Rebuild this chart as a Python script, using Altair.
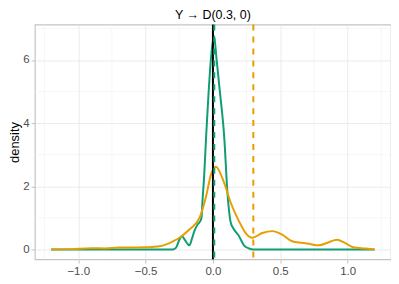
import altair as alt
import pandas as pd

# green curve (density of first series)
green_x = [-1.2, -0.6, -0.3, -0.275, -0.25, -0.23, -0.205, -0.175, -0.155, -0.138, -0.114, -0.089,
           -0.084, -0.077, -0.064, -0.051, -0.032, -0.015, 0.0077, 0.027, 0.052, 0.084, 0.108,
           0.133, 0.157, 0.194, 0.23, 0.268, 0.3, 0.6, 1.2]
green_y = [0.0, 0.0, 0.0, 0.05, 0.3, 0.42, 0.28, 0.13, 0.35, 0.58, 0.79, 0.94,
           1.05, 1.57, 2.41, 3.55, 4.98, 6.03, 6.77, 6.03, 4.98, 3.55, 1.78,
           0.84, 0.63, 0.42, 0.13, 0.03, 0.0, 0.0, 0.0]

# orange curve (density of second series)
orange_x = [-1.2, -1.05, -0.9, -0.8, -0.7, -0.5, -0.45, -0.396, -0.347, -0.3, -0.249, -0.175, -0.1,
            -0.051, -0.015, 0.022, 0.084, 0.133, 0.194, 0.243, 0.292, 0.366, 0.44, 0.514,
            0.588, 0.662, 0.71, 0.785, 0.86, 0.92, 0.98, 1.04, 1.13, 1.2]
orange_y = [0.0, 0.01, 0.04, 0.03, 0.06, 0.07, 0.08, 0.1, 0.16, 0.25, 0.37, 0.63, 1.0,
            1.68, 2.36, 2.62, 2.1, 1.47, 0.89, 0.52, 0.37, 0.52, 0.58, 0.47,
            0.26, 0.21, 0.18, 0.13, 0.23, 0.31, 0.21, 0.07, 0.03, 0.0]

vlines_x = [0.0, 0.01, 0.3]
x_ticks = [-1.0, -0.5, 0.0, 0.5, 1.0]
y_ticks = [0, 2, 4, 6]
x_minor = [-1.25, -0.75, -0.25, 0.25, 0.75, 1.25]
y_minor = [1, 3, 5, 7]

GREEN = "#0F9E74"
ORANGE = "#E69F00"

xs = alt.Scale(domain=[-1.322, 1.322], nice=False, zero=False)
ys = alt.Scale(domain=[-0.315, 7.12], nice=False, zero=False)

df = pd.concat([
    pd.DataFrame({"x": green_x, "y": green_y, "s": "A"}),
    pd.DataFrame({"x": orange_x, "y": orange_y, "s": "B"}),
])

minor_x = alt.Chart(pd.DataFrame({"x": x_minor})).mark_rule(color="#F0F0F0", strokeWidth=0.6).encode(
    x=alt.X("x:Q", scale=xs))
minor_y = alt.Chart(pd.DataFrame({"y": y_minor})).mark_rule(color="#F0F0F0", strokeWidth=0.6).encode(
    y=alt.Y("y:Q", scale=ys))

curves = alt.Chart(df).mark_line(strokeWidth=2, interpolate="monotone").encode(
    x=alt.X("x:Q", scale=xs, title=None,
            axis=alt.Axis(values=x_ticks, format=".1f", grid=True, gridColor="#E6E6E6", gridWidth=0.8,
                          domain=False, tickColor="#B3B3B3", tickSize=3.7, tickWidth=0.8,
                          labelColor="#4D4D4D", labelFont="Liberation Sans", labelFontSize=11.5,
                          labelPadding=2)),
    y=alt.Y("y:Q", scale=ys, title="density",
            axis=alt.Axis(values=y_ticks, format="d", grid=True, gridColor="#E6E6E6", gridWidth=0.8,
                          domain=False, tickColor="#B3B3B3", tickSize=3.7, tickWidth=0.8,
                          labelColor="#4D4D4D", labelFont="Liberation Sans", labelFontSize=11.5,
                          labelPadding=2, titleFont="Liberation Sans", titleFontSize=13,
                          titleFontWeight="normal", titleColor="#000000",
                          titleX=-20, titleBaseline="middle")),
    color=alt.Color("s:N", scale=alt.Scale(domain=["A", "B"], range=[GREEN, ORANGE]), legend=None),
    detail="s:N",
)

vdf = pd.DataFrame({"x": vlines_x, "c": ["k", "g", "o"]})
black_rule = alt.Chart(vdf[vdf.c == "k"]).mark_rule(color="#000000", strokeWidth=2).encode(
    x=alt.X("x:Q", scale=xs))
green_rule = alt.Chart(vdf[vdf.c == "g"]).mark_rule(color=GREEN, strokeWidth=2, strokeDash=[6, 6]).encode(
    x=alt.X("x:Q", scale=xs))
orange_rule = alt.Chart(vdf[vdf.c == "o"]).mark_rule(color=ORANGE, strokeWidth=2, strokeDash=[6, 6]).encode(
    x=alt.X("x:Q", scale=xs))

chart = alt.layer(minor_x, minor_y, curves, black_rule, green_rule, orange_rule).properties(
    width=358, height=236,
    title=alt.TitleParams("Y \u2192 D(0.3, 0)", font="Liberation Sans", fontSize=12.5,
                          fontWeight="normal", color="#000000", anchor="middle", offset=2),
    autosize=alt.AutoSizeParams(type="none"),
    padding={"left": 27, "top": 16, "right": 0, "bottom": 16},
).configure_view(stroke="#C4C4C4", strokeWidth=1.2)

chart.save("out.html", embed_options={"renderer": "svg", "actions": False})
